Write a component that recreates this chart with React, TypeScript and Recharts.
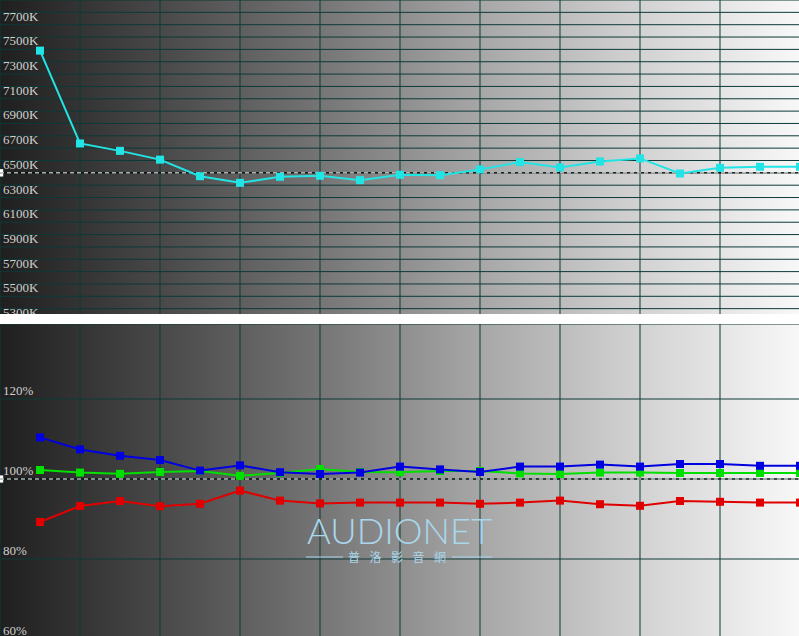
import React from "react";
import { LineChart, Line, XAxis, YAxis, CartesianGrid, ReferenceLine, ReferenceArea } from "recharts";

// Grey-step index (1..20)
const steps = [1, 2, 3, 4, 5, 6, 7, 8, 9, 10, 11, 12, 13, 14, 15, 16, 17, 18, 19, 20];
// Colour temperature (K)
const cct = [7490, 6738, 6678, 6607, 6473, 6419, 6468, 6476, 6441, 6484, 6481, 6528, 6587, 6544, 6592, 6617, 6495, 6541, 6549, 6549];
// RGB balance (%)
const redPct = [89.25, 93.25, 94.5, 93.2, 93.8, 97.1, 94.6, 93.9, 94.1, 94.1, 94.1, 93.8, 94.1, 94.6, 93.7, 93.3, 94.5, 94.3, 94.1, 94.1];
const greenPct = [102.25, 101.6, 101.3, 101.75, 102, 100.8, 101.5, 102.5, 101.75, 101.7, 102, 102, 101.4, 101.25, 101.6, 101.6, 101.5, 101.5, 101.5, 101.5];
const bluePct = [110.4, 107.4, 105.8, 104.75, 102.1, 103.4, 101.7, 101.25, 101.6, 103.1, 102.4, 101.75, 103.1, 103.1, 103.6, 103.1, 103.75, 103.75, 103.3, 103.3];

const xTicks = [0, 2, 4, 6, 8, 10, 12, 14, 16, 18, 20];
const cctTicks = [5300, 5400, 5500, 5600, 5700, 5800, 5900, 6000, 6100, 6200, 6300, 6400, 6500, 6600, 6700, 6800, 6900, 7000, 7100, 7200, 7300, 7400, 7500, 7600, 7700, 7800];
const cctLabelTicks = [5300, 5500, 5700, 5900, 6100, 6300, 6500, 6700, 6900, 7100, 7300, 7500, 7700];
const pctTicks = [60, 80, 100, 120];

const topData = steps.map((s, i) => ({ s, cct: cct[i] }));
const botData = steps.map((s, i) => ({ s, r: redPct[i], g: greenPct[i], b: bluePct[i] }));

const GRID = "#0c3a37";
const BG = "linear-gradient(to right, #1f1f1f 0%, #444 18%, #707070 38%, #a2a2a2 58%, #cecece 78%, #f8f8f8 100%)";
const LABEL_FONT = "'Liberation Serif', 'DejaVu Serif', serif";

const square = (color: string) => (p: any) => (
  <rect key={`d${p.index}`} x={p.cx - 4} y={p.cy - 4} width={8} height={8} fill={color} />
);

const renderCctTick = (p: any) => {
  const v = p.payload.value;
  if (!cctLabelTicks.includes(v)) return <g key={`t${v}`} />;
  return (
    <text key={`t${v}`} x={3} y={p.y - 4} fill="#cfcfcf" fontFamily={LABEL_FONT} fontSize={13}>
      {v}K
    </text>
  );
};

const renderPctTick = (p: any) => (
  <text key={`p${p.payload.value}`} x={3} y={p.y - 4} fill="#cfcfcf" fontFamily={LABEL_FONT} fontSize={13}>
    {p.payload.value}%
  </text>
);

export default function App() {
  return (
    <div style={{ position: "absolute", left: 0, top: 0, width: 799, height: 636, overflow: "hidden", background: "#fff" }}>
      <div style={{ position: "absolute", left: 0, top: 0, width: 800, height: 314, background: BG }} />
      <div style={{ position: "absolute", left: 0, top: 324, width: 800, height: 315, background: BG }} />

      <div style={{ position: "absolute", left: 0, top: 0 }}>
        <LineChart width={800} height={321} data={topData} margin={{ top: 0, right: 0, bottom: 0, left: 0 }}>
          <CartesianGrid stroke={GRID} strokeWidth={1} />
          <XAxis dataKey="s" type="number" domain={[0, 20]} ticks={xTicks} hide />
          <YAxis type="number" domain={[5300, 7900]} ticks={cctTicks} width={60} mirror axisLine={false} tickLine={false} tick={renderCctTick} interval={0} />
          <ReferenceLine y={6500} stroke="#000" strokeWidth={1} />
          <ReferenceLine y={6500} stroke="#fff" strokeWidth={1} strokeDasharray="4 3" />
          <ReferenceArea x1={0} x2={0.08} y1={6470} y2={6530} fill="#fff" fillOpacity={1} stroke="none" />
          <Line dataKey="cct" stroke="#22e4e4" strokeWidth={2} dot={square("#22e4e4")} activeDot={false} isAnimationActive={false} />
        </LineChart>
      </div>

      <div style={{ position: "absolute", left: 0, top: 314, width: 800, height: 10, background: "#fff" }} />

      <div style={{ position: "absolute", left: 0, top: 324 }}>
        <LineChart width={800} height={315} data={botData} margin={{ top: 0, right: 0, bottom: 0, left: 0 }}>
          <CartesianGrid stroke={GRID} strokeWidth={1} />
          <XAxis dataKey="s" type="number" domain={[0, 20]} ticks={xTicks} hide />
          <YAxis type="number" domain={[60, 138.75]} ticks={pctTicks} width={60} mirror axisLine={false} tickLine={false} tick={renderPctTick} interval={0} />
          <ReferenceLine y={100} stroke="#000" strokeWidth={1} />
          <ReferenceLine y={100} stroke="#fff" strokeWidth={1} strokeDasharray="4 3" />
          <ReferenceArea x1={0} x2={0.08} y1={99.1} y2={100.9} fill="#fff" fillOpacity={1} stroke="none" />
          <Line dataKey="g" stroke="#00e000" strokeWidth={2} dot={square("#00e000")} activeDot={false} isAnimationActive={false} />
          <Line dataKey="b" stroke="#0000e0" strokeWidth={2} dot={square("#0000e0")} activeDot={false} isAnimationActive={false} />
          <Line dataKey="r" stroke="#e00000" strokeWidth={2} dot={square("#e00000")} activeDot={false} isAnimationActive={false} />
        </LineChart>
      </div>

      <svg style={{ position: "absolute", left: 0, top: 0, pointerEvents: "none" }} width={799} height={636}>
        <text x={307} y={544} textLength={185} lengthAdjust="spacingAndGlyphs" fill="#a9d7ec" fontFamily="Lato, 'Noto Sans', sans-serif" fontWeight={300} fontSize={36}>
          AUDIONET
        </text>
        <line x1={306} y1={557} x2={343} y2={557} stroke="#a9d7ec" strokeWidth={1} />
        <line x1={452} y1={557} x2={492} y2={557} stroke="#a9d7ec" strokeWidth={1} />
        <text x={348} y={562} textLength={98} lengthAdjust="spacing" fill="#a9d7ec" fontFamily="'Noto Sans CJK TC', sans-serif" fontSize={12}>
          普洛影音網
        </text>
      </svg>
    </div>
  );
}
